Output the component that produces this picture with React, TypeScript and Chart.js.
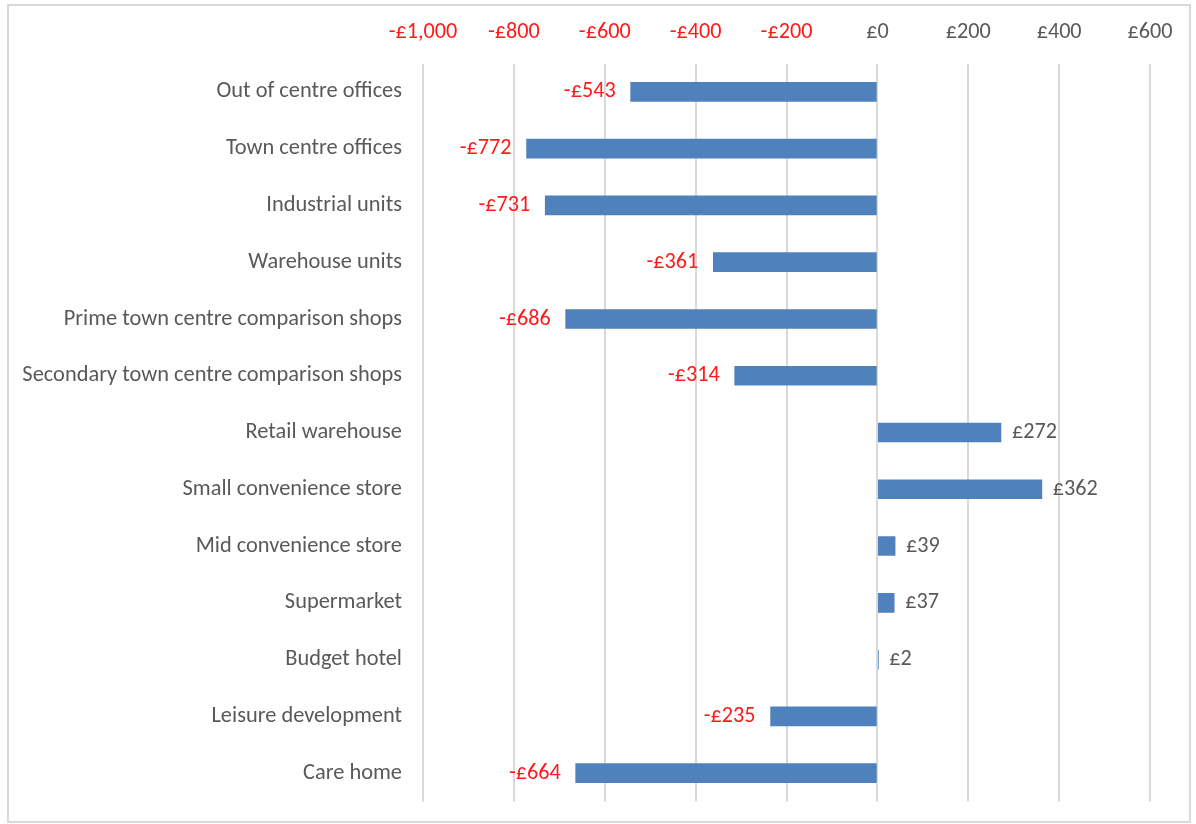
import React, { useEffect, useRef } from "react";
import { Chart, registerables } from "chart.js";

Chart.register(...registerables);

const categories = [
  "Out of centre offices",
  "Town centre offices",
  "Industrial units",
  "Warehouse units",
  "Prime town centre comparison shops",
  "Secondary town centre comparison shops",
  "Retail warehouse",
  "Small convenience store",
  "Mid convenience store",
  "Supermarket",
  "Budget hotel",
  "Leisure development",
  "Care home",
];

const values = [-543, -772, -731, -361, -686, -314, 272, 362, 39, 37, 2, -235, -664];

const xMin = -1000;
const xMax = 600;
const xStep = 200;

const RED = "#FF1A1A";
const GRAY = "#595959";
const BLUE = "#4F81BD";
const FONT = "Carlito, Calibri, 'Open Sans', sans-serif";
const LABEL_SIZE = 22.4;
const NUM_SIZE = 22.2;

function money(v: number): string {
  const a = Math.abs(v).toLocaleString("en-GB");
  return (v < 0 ? "-" : "") + "£" + a;
}

const borderPlugin = {
  id: "frameBorder",
  beforeDraw(chart: any) {
    const ctx = chart.ctx;
    ctx.save();
    ctx.fillStyle = "#ffffff";
    ctx.fillRect(0, 0, chart.width, chart.height);
    ctx.strokeStyle = "#d9d9d9";
    ctx.lineWidth = 2;
    ctx.strokeRect(8, 5, 1182, 817);
    ctx.restore();
  },
};

const labelPlugin = {
  id: "valueLabels",
  afterDatasetsDraw(chart: any) {
    const ctx = chart.ctx;
    const meta = chart.getDatasetMeta(0);
    const xScale = chart.scales.x;
    ctx.save();
    ctx.font = `${NUM_SIZE}px ${FONT}`;
    ctx.textBaseline = "middle";
    meta.data.forEach((bar: any, i: number) => {
      const v = values[i];
      const end = xScale.getPixelForValue(v);
      if (v < 0) {
        ctx.fillStyle = RED;
        ctx.textAlign = "right";
        ctx.fillText(money(v), end - 15, bar.y);
      } else {
        ctx.fillStyle = GRAY;
        ctx.textAlign = "left";
        ctx.fillText(money(v), end + 11, bar.y);
      }
    });
    ctx.restore();
  },
};

export default function App() {
  const ref = useRef<HTMLCanvasElement | null>(null);

  useEffect(() => {
    document.body.style.margin = "0";
    const canvas = ref.current;
    if (!canvas) return;
    const chart = new Chart(canvas, {
      type: "bar",
      data: {
        labels: categories,
        datasets: [
          {
            data: values,
            backgroundColor: BLUE,
            borderWidth: 0,
            barThickness: 19,
            categoryPercentage: 1,
          },
        ],
      },
      options: {
        indexAxis: "y",
        animation: false,
        responsive: false,
        maintainAspectRatio: false,
        layout: { padding: { left: 0, top: 0, right: 46, bottom: 22.5 } },
        plugins: {
          legend: { display: false },
          tooltip: { enabled: false },
          title: { display: false },
        },
        scales: {
          x: {
            position: "top",
            min: xMin,
            max: xMax,
            border: { display: false },
            grid: { color: "#d9d9d9", lineWidth: 2, drawTicks: false },
            ticks: {
              stepSize: xStep,
              padding: 17.5,
              font: { family: FONT, size: NUM_SIZE },
              color: (c: any) => (c.tick && c.tick.value < 0 ? RED : GRAY),
              callback: (v: any) => money(Number(v)),
            },
            afterFit: (s: any) => {
              s.height = 63.5;
              s.paddingLeft = 0;
              s.paddingRight = 0;
            },
          },
          y: {
            border: { display: false },
            grid: { display: false, drawTicks: false },
            ticks: {
              padding: 21,
              font: { family: FONT, size: LABEL_SIZE },
              color: GRAY,
            },
            afterFit: (s: any) => {
              s.width = 423;
              s.paddingTop = 0;
              s.paddingBottom = 0;
            },
          },
        },
      },
      plugins: [borderPlugin, labelPlugin],
    });
    return () => chart.destroy();
  }, []);

  return <canvas ref={ref} width={1196} height={824} style={{ display: "block" }} />;
}
